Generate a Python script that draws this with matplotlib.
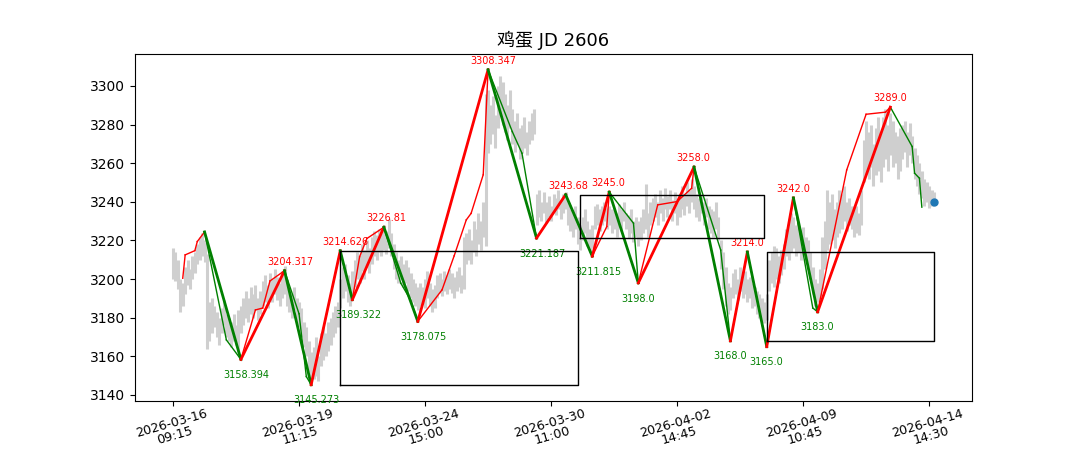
import matplotlib
matplotlib.use('Agg')
import matplotlib.pyplot as plt
import numpy as np

# 15分钟K线的最高/最低价
lows = [3200, 3199, 3195, 3183, 3186, 3192, 3197, 3195, 3200, 3203,
        3208, 3210, 3212, 3209, 3164, 3168, 3172, 3175, 3170, 3166,
        3172, 3176, 3170, 3168, 3165, 3168, 3166, 3162, 3172, 3176,
        3180, 3178, 3182, 3180, 3184, 3179, 3182, 3186, 3188, 3185,
        3190, 3188, 3192, 3189, 3186, 3190, 3192, 3186, 3183, 3180,
        3184, 3178, 3175, 3170, 3165, 3160, 3152, 3146, 3148, 3150,
        3147, 3155, 3158, 3160, 3163, 3166, 3170, 3172, 3175, 3185,
        3190, 3194, 3188, 3186, 3190, 3196, 3200, 3198, 3204, 3200,
        3206, 3203, 3208, 3212, 3210, 3214, 3212, 3215, 3213, 3216,
        3212, 3205, 3200, 3198, 3200, 3196, 3198, 3194, 3190, 3188,
        3186, 3184, 3186, 3188, 3185, 3190, 3186, 3183, 3185, 3190,
        3193, 3191, 3194, 3192, 3195, 3193, 3190, 3194, 3196, 3193,
        3195, 3208, 3210, 3208, 3214, 3212, 3218, 3215, 3222, 3217,
        3265, 3270, 3275, 3268, 3278, 3285, 3280, 3276, 3272, 3278,
        3270, 3266, 3270, 3262, 3265, 3268, 3264, 3270, 3272, 3275,
        3228, 3232, 3230, 3234, 3229, 3232, 3230, 3235, 3233, 3236,
        3231, 3234, 3236, 3228, 3225, 3222, 3226, 3218, 3215, 3220,
        3224, 3217, 3214, 3216, 3226, 3228, 3225, 3228, 3230, 3226,
        3228, 3224, 3226, 3222, 3228, 3225, 3230, 3226, 3221, 3224,
        3219, 3222, 3217, 3220, 3224, 3226, 3222, 3228, 3230, 3232,
        3228, 3234, 3230, 3236, 3232, 3236, 3230, 3234, 3228, 3232,
        3236, 3233, 3238, 3234, 3240, 3236, 3232, 3230, 3234, 3228,
        3232, 3226, 3224, 3222, 3226, 3220, 3205, 3195, 3186, 3182,
        3184, 3190, 3192, 3189, 3194, 3190, 3192, 3188, 3190, 3185,
        3186, 3182, 3180, 3178, 3177, 3179, 3194, 3198, 3196, 3200,
        3198, 3202, 3205, 3212, 3210, 3214, 3216, 3212, 3214, 3210,
        3212, 3208, 3205, 3200, 3192, 3186, 3188, 3191, 3195, 3205,
        3215, 3218, 3220, 3216, 3222, 3224, 3226, 3230, 3225, 3228,
        3226, 3222, 3224, 3223, 3228, 3250, 3255, 3252, 3258, 3248,
        3254, 3256, 3250, 3258, 3262, 3256, 3264, 3258, 3260, 3252,
        3256, 3262, 3266, 3258, 3264, 3260, 3252, 3248, 3244, 3242,
        3238, 3240, 3237, 3238, 3239]
highs = [3216, 3214, 3210, 3200, 3198, 3206, 3210, 3205, 3212, 3214,
         3218, 3222, 3224, 3220, 3213, 3188, 3190, 3186, 3183, 3180,
         3185, 3189, 3182, 3180, 3178, 3182, 3176, 3184, 3186, 3190,
         3194, 3190, 3196, 3192, 3197, 3190, 3194, 3199, 3202, 3197,
         3203, 3200, 3205, 3201, 3198, 3204, 3207, 3200, 3195, 3193,
         3196, 3190, 3188, 3185, 3178, 3175, 3168, 3162, 3165, 3170,
         3160, 3172, 3175, 3172, 3178, 3180, 3183, 3186, 3188, 3200,
         3206, 3208, 3202, 3198, 3204, 3210, 3214, 3212, 3218, 3215,
         3220, 3216, 3222, 3225, 3223, 3226, 3224, 3228, 3225, 3231,
         3224, 3218, 3214, 3210, 3212, 3208, 3210, 3206, 3203, 3200,
         3198, 3196, 3198, 3196, 3200, 3204, 3198, 3195, 3197, 3202,
         3203, 3200, 3204, 3202, 3205, 3203, 3201, 3204, 3206, 3202,
         3222, 3224, 3226, 3220, 3230, 3226, 3234, 3230, 3240, 3296,
         3298, 3290, 3295, 3285, 3300, 3305, 3302, 3296, 3290, 3298,
         3288, 3282, 3286, 3278, 3280, 3284, 3276, 3282, 3286, 3288,
         3244, 3246, 3240, 3245, 3240, 3243, 3238, 3244, 3242, 3246,
         3240, 3244, 3245, 3240, 3236, 3234, 3238, 3232, 3228, 3232,
         3236, 3230, 3226, 3228, 3238, 3239, 3236, 3238, 3240, 3237,
         3238, 3236, 3235, 3234, 3239, 3236, 3240, 3234, 3233, 3236,
         3230, 3232, 3230, 3232, 3236, 3249, 3234, 3240, 3242, 3244,
         3240, 3246, 3242, 3247, 3243, 3246, 3241, 3245, 3240, 3244,
         3248, 3244, 3250, 3246, 3252, 3248, 3244, 3242, 3243, 3240,
         3242, 3238, 3236, 3235, 3240, 3232, 3220, 3214, 3206, 3198,
         3196, 3203, 3205, 3200, 3206, 3202, 3204, 3200, 3201, 3198,
         3196, 3194, 3192, 3190, 3188, 3192, 3210, 3214, 3217, 3216,
         3212, 3215, 3218, 3226, 3230, 3234, 3232, 3228, 3230, 3226,
         3227, 3222, 3220, 3214, 3206, 3200, 3198, 3205, 3222, 3230,
         3246, 3240, 3244, 3236, 3240, 3246, 3244, 3248, 3240, 3242,
         3238, 3236, 3238, 3234, 3246, 3272, 3282, 3276, 3280, 3270,
         3278, 3284, 3275, 3284, 3288, 3280, 3286, 3282, 3276, 3274,
         3278, 3280, 3282, 3276, 3281, 3274, 3268, 3264, 3260, 3256,
         3252, 3250, 3248, 3246, 3245]
last_price = 3240

tick_pos = [0, 52, 104, 156, 208, 260, 312]
tick_labels = ['2026-03-16\n09:15', '2026-03-19\n11:15', '2026-03-24\n15:00',
               '2026-03-30\n11:00', '2026-04-02\n14:45', '2026-04-09\n10:45',
               '2026-04-14\n14:30']

# 笔（粗线）端点
bi_x = [13, 28, 46, 57, 69, 74, 87, 101, 130, 150, 162, 173, 180, 192,
        215, 230, 237, 245, 256, 266, 296]
bi_y = [3224.4, 3158.394, 3204.317, 3145.273, 3214.626, 3189.322, 3226.81,
        3178.075, 3308.347, 3221.187, 3243.68, 3211.815, 3245.0, 3198.0,
        3258.0, 3168.0, 3214.0, 3165.0, 3242.0, 3183.0, 3289.0]

# 次级别走势（细线）
sub_x = [4, 5, 9, 10, 13, 22, 28, 34, 37, 40, 46, 52, 55, 57, 69, 74, 77, 80,
         87, 94, 98, 101, 111, 116, 121, 123, 128, 130, 140, 144, 150, 162,
         173, 179, 180, 190, 192, 200, 208, 214, 215, 226, 230, 237, 245, 256,
         264, 266, 278, 286, 294, 296, 305, 306, 308, 309]
sub_y = [3200.4, 3212.5, 3214.7, 3219.4, 3224.4, 3168.5, 3158.394, 3184.0,
         3185.0, 3199.0, 3204.317, 3182.0, 3149.5, 3145.273, 3214.626,
         3189.322, 3211.6, 3221.0, 3226.81, 3197.8, 3189.2, 3178.075, 3194.4,
         3212.0, 3230.6, 3234.0, 3254.0, 3308.347, 3276.3, 3265.1, 3221.187,
         3243.68, 3211.815, 3227.2, 3245.0, 3228.9, 3198.0, 3238.4, 3240.1,
         3247.0, 3258.0, 3215.0, 3168.0, 3214.0, 3165.0, 3242.0, 3185.0,
         3183.0, 3256.5, 3285.3, 3286.4, 3289.0, 3268.6, 3254.8, 3252.2,
         3237.2]

# 中枢
zs_start = [69, 168, 245]
zs_end = [167, 244, 314]
zs_low = [3145.273, 3221.187, 3168.0]
zs_high = [3214.626, 3243.68, 3214.0]

fig, ax = plt.subplots(figsize=(10.8, 4.5), dpi=100)

x = np.arange(len(lows))
ax.vlines(x, lows, highs, color='#cfcfcf', linewidth=2.2, zorder=1)

for i in range(len(sub_x) - 1):
    c = 'red' if sub_y[i + 1] > sub_y[i] else 'green'
    ax.plot(sub_x[i:i + 2], sub_y[i:i + 2], color=c, linewidth=1, zorder=2)

for i in range(len(bi_x) - 1):
    c = 'red' if bi_y[i + 1] > bi_y[i] else 'green'
    ax.plot(bi_x[i:i + 2], bi_y[i:i + 2], color=c, linewidth=2, zorder=3)

for i in range(1, len(bi_x)):
    up = bi_y[i] > bi_y[i - 1]
    if up:
        ax.text(bi_x[i] - 7.2, bi_y[i] + 3, str(bi_y[i]), color='red',
                fontsize=7, ha='left', va='baseline')
    else:
        ax.text(bi_x[i] - 7.2, bi_y[i] - 5.5, str(bi_y[i]), color='green',
                fontsize=7, ha='left', va='top')

for s, e, lo, hi in zip(zs_start, zs_end, zs_low, zs_high):
    ax.plot([s, e, e, s, s], [lo, lo, hi, hi, lo], color='black',
            linewidth=1, zorder=4)

ax.scatter([len(lows) - 1], [last_price], s=25, color='C0', zorder=5)

ax.set_xticks(tick_pos)
ax.set_xticklabels(tick_labels, rotation=16, fontsize=9.2, linespacing=0.95)
ax.tick_params(axis='x', pad=1)
ax.set_title('鸡蛋 JD 2606', fontsize=13,
             family=['DejaVu Sans', 'Noto Sans CJK SC'])

fig.savefig('out.png')
